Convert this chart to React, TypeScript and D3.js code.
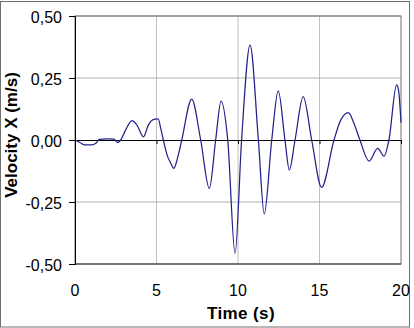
import React, { useRef, useEffect } from "react";
import * as d3 from "d3";

// time (s) and velocity (m/s)
const times = [
    0, 0.3, 0.6, 1.0, 1.3, 1.5, 2.0, 2.4, 2.6, 2.8, 3.1, 3.5, 3.8, 4.2, 4.5, 4.8, 5.1, 5.25,
    5.42, 5.7, 5.85, 6.07, 6.3, 6.55, 7.16, 7.71, 8.24, 8.63, 8.96, 9.37, 9.82, 10.22, 10.74,
    11.25, 11.61, 12.07, 12.47, 12.88, 13.15, 13.5, 14.0, 14.52, 15.13, 15.89, 16.3, 16.77,
    17.1, 17.48, 18.04, 18.57, 18.96, 19.26, 19.73, 19.85, 20.0,
];
const velocities = [
    0, -0.01, -0.02, -0.02, -0.012, 0.003, 0.005, 0.004, -0.01, 0.0, 0.04, 0.078, 0.06, 0.013,
    0.06, 0.082, 0.085, 0.05, 0, -0.07, -0.09, -0.114, -0.07, 0, 0.165, 0, -0.195, 0, 0.157,
    0, -0.457, 0, 0.383, 0, -0.298, 0, 0.198, 0, -0.121, 0, 0.175, 0, -0.191, 0, 0.08, 0.11,
    0.07, 0, -0.085, -0.034, -0.065, 0, 0.222, 0.2, 0.07,
];
const xTicks = [0, 5, 10, 15, 20];
const yTicks = [-0.5, -0.25, 0, 0.25, 0.5];

const App: React.FC = () => {
    const ref = useRef<SVGSVGElement>(null);

    useEffect(() => {
        if (!ref.current) return;
        const svg = d3.select(ref.current);
        svg.selectAll("*").remove();

        const left = 75, right = 401, top = 16, bottom = 264;
        const x = d3.scaleLinear().domain([0, 20]).range([left, right]);
        const y = d3.scaleLinear().domain([-0.5, 0.5]).range([bottom, top]);
        const fmt = (v: number) => d3.format(".2f")(v).replace(".", ",").replace("−", "-");

        // outer chart border
        svg.append("rect")
            .attr("x", 0.5).attr("y", 1.5)
            .attr("width", 409).attr("height", 325.5)
            .attr("fill", "white")
            .attr("stroke", "#707070");

        // grid
        svg.selectAll(".gx")
            .data(xTicks.slice(1, -1))
            .enter().append("line")
            .attr("x1", d => x(d)).attr("x2", d => x(d))
            .attr("y1", top).attr("y2", bottom)
            .attr("stroke", "#c0c0c0");
        svg.selectAll(".gy")
            .data(yTicks.filter(d => d !== 0 && d !== -0.5))
            .enter().append("line")
            .attr("x1", left).attr("x2", right)
            .attr("y1", d => y(d)).attr("y2", d => y(d))
            .attr("stroke", "#b0b0b0");

        // plot frame
        svg.append("rect")
            .attr("x", left).attr("y", top)
            .attr("width", right - left).attr("height", bottom - top)
            .attr("fill", "none")
            .attr("stroke", "#707070");
        svg.append("line")
            .attr("x1", left).attr("x2", right)
            .attr("y1", bottom).attr("y2", bottom)
            .attr("stroke", "#303030");

        // y axis
        const yAxis = d3.axisLeft(y).tickValues(yTicks).tickSize(6).tickFormat(d => fmt(+d));
        const gy = svg.append("g").attr("transform", `translate(${left},0)`).call(yAxis);
        gy.select(".domain").attr("stroke", "#000");
        gy.selectAll("line").attr("stroke", "#000");
        gy.selectAll("text")
            .attr("font-family", "Liberation Sans, Arial, sans-serif")
            .attr("font-size", 16)
            .attr("fill", "#000")
            .attr("x", -13)
            .attr("dy", "0.38em");

        // x axis through zero
        const xAxis = d3.axisBottom(x).tickValues(xTicks).tickSize(4).tickFormat(() => "");
        const gx = svg.append("g").attr("transform", `translate(0,${y(0)})`).call(xAxis);
        gx.select(".domain").attr("stroke", "#000");
        gx.selectAll("line").attr("stroke", "#000");

        svg.selectAll(".xl")
            .data(xTicks)
            .enter().append("text")
            .attr("x", d => x(d)).attr("y", 296)
            .attr("text-anchor", "middle")
            .attr("font-family", "Liberation Sans, Arial, sans-serif")
            .attr("font-size", 16)
            .text(d => d);

        // data line
        const pts: [number, number][] = times.map((t, i) => [t, velocities[i]]);
        const line = d3.line<[number, number]>()
            .x(d => x(d[0]))
            .y(d => y(d[1]))
            .curve(d3.curveMonotoneX);
        svg.append("path")
            .datum(pts)
            .attr("d", line)
            .attr("fill", "none")
            .attr("stroke", "#22228a")
            .attr("stroke-width", 1.25);

        // axis titles
        svg.append("text")
            .attr("x", 241).attr("y", 318.5)
            .attr("text-anchor", "middle")
            .attr("font-family", "Liberation Sans, Arial, sans-serif")
            .attr("font-weight", "bold")
            .attr("font-size", 17)
            .attr("letter-spacing", 0.4)
            .text("Time (s)");
        svg.append("text")
            .attr("transform", "translate(16.5,135) rotate(-90)")
            .attr("text-anchor", "middle")
            .attr("font-family", "Liberation Sans, Arial, sans-serif")
            .attr("font-weight", "bold")
            .attr("font-size", 17)
            .text("Velocity X (m/s)");
    }, []);

    return (
        <svg ref={ref} width={414} height={328}
            style={{ position: "fixed", left: 0, top: 0, background: "white" }} />
    );
};

export default App;
